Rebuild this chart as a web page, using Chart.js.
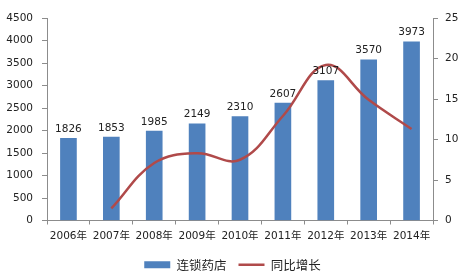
<!DOCTYPE html>
<html>
<head>
<meta charset="utf-8">
<script src="https://cdn.jsdelivr.net/npm/chart.js@4/dist/chart.umd.min.js"></script>
<style>
  html, body { margin: 0; padding: 0; background: #fff; }
  #wrap { width: 465px; height: 278px; position: relative; }
</style>
</head>
<body>
<div id="wrap"><canvas id="storeChart"></canvas></div>
<script>
const years = ['2006年', '2007年', '2008年', '2009年', '2010年', '2011年', '2012年', '2013年', '2014年'];
const storeCounts = [1826, 1853, 1985, 2149, 2310, 2607, 3107, 3570, 3973];
const growthRate = [null, 1.5, 7.1, 8.3, 7.5, 12.9, 19.2, 14.9, 11.3];

const FONT = '"DejaVu Sans", "Noto Sans CJK SC", sans-serif';
const CJK_FONT = '"Noto Sans CJK SC", sans-serif';

// value labels above each bar
const barLabels = {
    id: 'barLabels',
    afterDatasetsDraw(chart) {
        const ctx = chart.ctx;
        const meta = chart.getDatasetMeta(0);
        ctx.save();
        ctx.font = '10.5px ' + FONT;
        ctx.fillStyle = '#222';
        ctx.textAlign = 'center';
        ctx.textBaseline = 'bottom';
        meta.data.forEach((bar, i) => {
            ctx.fillText(storeCounts[i], bar.x, bar.y - 4);
        });
        ctx.restore();
    }
};

function initializeChart() {
    const ctx = document.getElementById('storeChart').getContext('2d');

    const data = {
        labels: years,
        datasets: [{
            type: 'bar',
            label: '连锁药店',
            data: storeCounts,
            backgroundColor: '#4F81BD',
            borderWidth: 0,
            barThickness: 16,
            yAxisID: 'y',
            order: 1,
            pointStyle: 'rect'
        }, {
            type: 'line',
            label: '同比增长',
            data: growthRate,
            borderColor: '#B04A4A',
            backgroundColor: '#B04A4A',
            borderWidth: 2.5,
            pointRadius: 0,
            tension: 0.4,
            yAxisID: 'y1',
            order: 0,
            pointStyle: 'line'
        }]
    };

    const axisColor = '#8c8c8c';

    const config = {
        data: data,
        plugins: [barLabels],
        options: {
            responsive: true,
            maintainAspectRatio: false,
            animation: false,
            layout: { padding: { top: 18, bottom: -3, left: 0, right: 0 } },
            plugins: {
                legend: {
                    display: true,
                    position: 'bottom',
                    labels: {
                        usePointStyle: true,
                        pointStyleWidth: 26,
                        boxHeight: 7,
                        padding: 12,
                        color: '#222',
                        font: { size: 12.5, family: CJK_FONT },
                        sort: (a, b) => a.datasetIndex - b.datasetIndex
                    }
                },
                tooltip: { enabled: false }
            },
            scales: {
                x: {
                    offset: true,
                    grid: {
                        display: true,
                        drawOnChartArea: false,
                        tickLength: 4,
                        color: axisColor,
                        offset: true
                    },
                    border: { color: axisColor },
                    ticks: {
                        color: '#222',
                        padding: 5,
                        maxRotation: 0,
                        autoSkip: false,
                        font: { size: 10.5, family: FONT }
                    },
                    afterFit: function (scale) { scale.height = 26; }
                },
                y: {
                    position: 'left',
                    min: 0,
                    max: 4500,
                    ticks: {
                        stepSize: 500,
                        color: '#222',
                        padding: 9,
                        font: { size: 10.5, family: FONT },
                        callback: function (value) { return value; }
                    },
                    grid: {
                        display: true,
                        drawOnChartArea: false,
                        tickLength: 5,
                        color: axisColor
                    },
                    border: { color: axisColor },
                    afterFit: function (scale) { scale.width = 47; }
                },
                y1: {
                    position: 'right',
                    min: 0,
                    max: 25,
                    ticks: {
                        stepSize: 5,
                        color: '#222',
                        padding: 7,
                        font: { size: 10.5, family: FONT }
                    },
                    grid: {
                        display: true,
                        drawOnChartArea: false,
                        tickLength: 5,
                        color: axisColor
                    },
                    border: { color: axisColor },
                    afterFit: function (scale) { scale.width = 32; }
                }
            }
        }
    };

    new Chart(ctx, config);
}

document.addEventListener('DOMContentLoaded', initializeChart);
</script>
</body>
</html>
